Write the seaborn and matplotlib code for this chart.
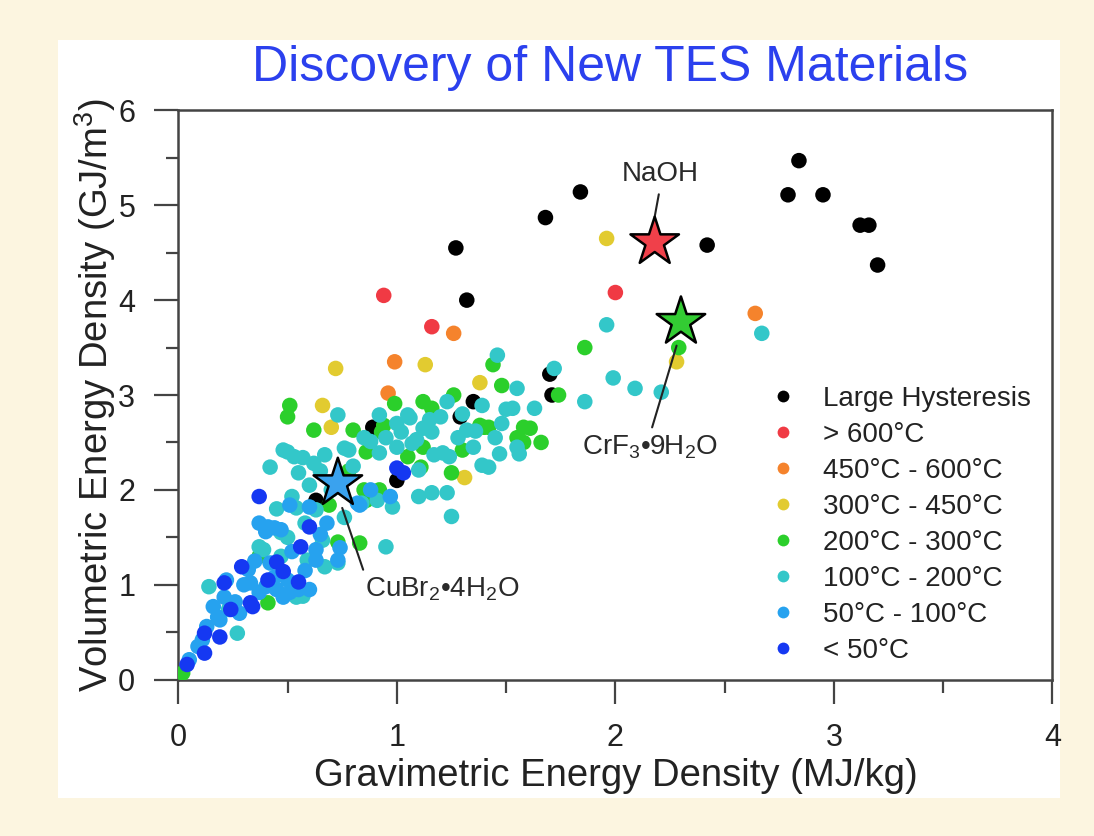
import matplotlib
matplotlib.use("Agg")
import matplotlib.pyplot as plt
from matplotlib.lines import Line2D
from matplotlib.patches import Rectangle
import pandas as pd
import seaborn as sns

# Data
# ==================================================

categories = ["Large Hysteresis", "> 600°C", "450°C - 600°C", "300°C - 450°C",
              "200°C - 300°C", "100°C - 200°C", "50°C - 100°C", "< 50°C"]
colors = ["#000000", "#f03a44", "#f5832c", "#e2cb30",
          "#2bcf2b", "#33c7c9", "#26a2ef", "#1538f2"]

black_x = [2.84, 2.79, 2.95, 3.12, 3.16, 3.20, 2.42, 1.84, 1.68, 1.27, 1.32, 1.70, 1.71, 1.35, 1.29, 0.89, 1.00, 0.63]
black_y = [5.47, 5.11, 5.11, 4.79, 4.79, 4.37, 4.58, 5.14, 4.87, 4.55, 4.00, 3.22, 3.00, 2.93, 2.77, 2.66, 2.10, 1.89]

red_x = [0.94, 1.16, 2.00]
red_y = [4.05, 3.72, 4.08]

orange_x = [1.26, 0.99, 0.96, 2.64]
orange_y = [3.65, 3.35, 3.02, 3.86]

yellow_x = [0.72, 0.66, 1.13, 1.38, 1.96, 2.28, 0.70, 1.31]
yellow_y = [3.28, 2.89, 3.32, 3.13, 4.65, 3.35, 2.66, 2.13]

green_x = [0.51, 0.50, 0.62, 0.80, 0.93, 0.99, 1.12, 1.26, 1.44, 1.48, 1.86, 1.74, 2.29, 1.58,
           1.66, 1.30, 1.25, 0.85, 0.69, 0.86, 0.83, 0.73, 0.41, 0.37, 0.02, 1.12, 1.61, 1.38,
           1.42, 1.55, 1.11, 1.16, 0.86, 0.92, 0.94, 1.40, 1.58, 0.78, 1.05]
green_y = [2.89, 2.77, 2.63, 2.63, 2.61, 2.91, 2.93, 3.00, 3.32, 3.10, 3.50, 3.00, 3.50, 2.66,
           2.50, 2.42, 2.18, 2.00, 1.84, 1.89, 1.44, 1.45, 0.81, 1.30, 0.07, 2.45, 2.65, 2.68,
           2.66, 2.55, 2.24, 2.86, 2.40, 2.00, 2.68, 2.66, 2.50, 2.20, 2.35]

teal_x = [1.46, 1.55, 1.63, 1.86, 1.72, 1.53, 1.39, 1.23, 0.73, 0.92, 1.05, 1.96, 1.99, 2.09,
          2.21, 2.67, 1.32, 1.48, 1.55, 1.39, 1.20, 1.06, 1.09, 1.16, 1.21, 1.56, 1.42, 1.24,
          1.10, 1.17, 0.76, 0.88, 1.02, 1.15, 1.07, 1.10, 1.16, 1.23, 1.25, 0.92, 0.91, 0.98,
          0.84, 0.42, 0.50, 0.57, 0.55, 0.67, 0.78, 0.52, 0.54, 0.63, 0.76, 0.95, 0.37, 0.47,
          0.66, 0.47, 0.14, 0.54, 0.50, 0.59, 0.73, 0.23, 0.27, 0.39, 0.57, 0.25, 0.67, 0.48,
          0.53, 1.45, 1.50, 1.30, 1.00, 0.95, 0.80, 0.65, 0.60, 0.70, 0.45, 1.00, 1.12, 1.35,
          1.47, 0.85, 0.58, 1.28, 1.36, 0.62]
teal_y = [3.42, 3.07, 2.86, 2.93, 3.28, 2.86, 2.89, 2.93, 2.79, 2.79, 2.79, 3.74, 3.18, 3.07,
          3.03, 3.65, 2.63, 2.70, 2.45, 2.26, 2.77, 2.76, 2.53, 2.61, 2.39, 2.38, 2.24, 2.35,
          2.21, 2.37, 2.44, 2.51, 2.61, 2.74, 2.49, 1.93, 1.97, 1.97, 1.72, 2.39, 1.89, 1.82,
          1.86, 2.24, 2.40, 2.34, 2.18, 2.37, 2.42, 1.93, 1.81, 1.79, 1.71, 1.40, 1.40, 1.55,
          1.47, 1.30, 0.98, 0.87, 1.50, 1.26, 1.23, 0.74, 0.49, 1.37, 0.88, 0.77, 1.19, 2.42,
          2.35, 2.55, 2.85, 2.80, 2.45, 2.55, 2.25, 2.20, 2.05, 2.00, 1.80, 2.70, 2.65, 2.45,
          2.38, 2.55, 1.65, 2.55, 2.62, 2.28]

lblue_x = [0.16, 0.19, 0.13, 0.09, 0.05, 0.33, 0.37, 0.48, 0.50, 0.28, 0.21, 0.60, 0.63, 0.42,
           0.51, 0.47, 0.68, 0.74, 0.65, 0.82, 0.45, 0.51, 0.22, 0.32, 0.37, 0.88, 0.97, 0.41,
           0.60, 0.40, 0.44, 0.83, 0.63, 0.73, 0.30, 0.40, 0.55, 0.44, 0.26, 0.18, 0.11, 0.35,
           0.58, 0.52]
lblue_y = [0.77, 0.63, 0.56, 0.35, 0.21, 1.02, 0.92, 0.87, 1.05, 0.70, 0.87, 0.95, 1.26, 1.23,
           1.84, 1.58, 1.65, 1.39, 1.53, 1.86, 0.95, 0.92, 1.05, 1.16, 1.65, 2.00, 1.93, 1.61,
           1.82, 1.56, 1.60, 1.84, 1.37, 1.26, 1.00, 0.98, 0.95, 1.08, 0.82, 0.66, 0.42, 1.25,
           1.15, 1.35]

blue_x = [0.04, 0.12, 0.12, 0.19, 0.24, 0.33, 0.21, 0.29, 0.41, 0.45, 0.48, 0.55, 0.56, 0.37,
          0.60, 1.00, 1.03, 0.34]
blue_y = [0.16, 0.28, 0.49, 0.45, 0.74, 0.81, 1.02, 1.19, 1.05, 1.24, 1.14, 1.03, 1.40, 1.93,
          1.61, 2.23, 2.18, 0.77]

star_names = ["NaOH", "CrF$_\\mathregular{3}$•9H$_\\mathregular{2}$O", "CuBr$_\\mathregular{2}$•4H$_\\mathregular{2}$O"]
star_x = [2.18, 2.30, 0.73]
star_y = [4.61, 3.77, 2.07]
star_colors = ["#f0404a", "#33cc33", "#3aa2ee"]

xs = [black_x, red_x, orange_x, yellow_x, green_x, teal_x, lblue_x, blue_x]
ys = [black_y, red_y, orange_y, yellow_y, green_y, teal_y, lblue_y, blue_y]

frames = []
for cat, x, y in zip(categories, xs, ys):
    frames.append(pd.DataFrame({"grav": x, "vol": y, "range": cat}))
df = pd.concat(frames, ignore_index=True)

stars = pd.DataFrame({"grav": star_x, "vol": star_y, "name": ["NaOH", "CrF3", "CuBr2"]})

# Plot
# ==================================================
sns.set_style("white")
plt.rcParams["font.family"] = ["Liberation Sans", "DejaVu Sans"]
plt.rcParams["mathtext.fontset"] = "custom"
plt.rcParams["mathtext.rm"] = "Liberation Sans"

fig = plt.figure(figsize=(10.94, 8.36), dpi=100)
fig.patch.set_facecolor("#fcf5e0")
fig.patches.append(Rectangle((0.053, 0.045), 0.916, 0.907, transform=fig.transFigure,
                             facecolor="white", edgecolor="none", zorder=-5))

ax = fig.add_axes([0.163, 0.187, 0.799, 0.681])

sns.scatterplot(data=df, x="grav", y="vol", hue="range", hue_order=categories,
                palette=colors, s=125, linewidth=0, legend=False, ax=ax, zorder=3)
sns.scatterplot(data=stars, x="grav", y="vol", hue="name", palette=star_colors,
                marker="*", s=1350, edgecolor="black", linewidth=1.8, legend=False,
                ax=ax, zorder=4)

ax.set_xlim(0, 4)
ax.set_ylim(0, 6)
ax.set_xticks([0, 1, 2, 3, 4])
ax.set_yticks([0, 1, 2, 3, 4, 5, 6])
ax.set_xticks([0.5, 1.5, 2.5, 3.5], minor=True)
ax.set_yticks([0.5, 1.5, 2.5, 3.5, 4.5, 5.5], minor=True)
ax.tick_params(which="major", direction="out", length=17, width=1.6, color="#444444",
               labelsize=22, pad=14, bottom=True, left=True, labelcolor="#222222")
ax.tick_params(which="minor", direction="out", length=9, width=1.6, color="#444444",
               bottom=True, left=True)
for sp in ax.spines.values():
    sp.set_color("#444444")
    sp.set_linewidth(1.8)

ax.set_xlabel("Gravimetric Energy Density (MJ/kg)", fontsize=27.5, color="#222222", labelpad=4)
ax.set_ylabel("Volumetric Energy Density (GJ/m$^\\mathregular{3}$)", fontsize=27.5, color="#222222", labelpad=0)

fig.text(0.558, 0.919, "Discovery of New TES Materials", fontsize=36, color="#2b40ee",
         ha="center", va="center")

# annotations for the starred materials
ax.annotate(star_names[0], xy=(2.18, 4.88), xytext=(2.205, 5.33), fontsize=20, color="#2a2a2a",
            ha="center", va="center",
            arrowprops=dict(arrowstyle="-", color="#222222", lw=1.5, relpos=(0.5, 0), shrinkA=3, shrinkB=0))
ax.annotate(star_names[1], xy=(2.28, 3.52), xytext=(2.16, 2.45), fontsize=20, color="#2a2a2a",
            ha="center", va="center",
            arrowprops=dict(arrowstyle="-", color="#222222", lw=1.5, relpos=(0.5, 1), shrinkA=2, shrinkB=0))
ax.annotate(star_names[2], xy=(0.75, 1.81), xytext=(0.855, 0.95), fontsize=20, color="#2a2a2a",
            ha="left", va="center",
            arrowprops=dict(arrowstyle="-", color="#222222", lw=1.5, relpos=(0, 1), shrinkA=2, shrinkB=0))

handles = [Line2D([], [], marker="o", linestyle="", markersize=8.5, color=c, markeredgewidth=0)
           for c in colors]
ax.legend(handles, categories, loc="upper left", bbox_to_anchor=(0.663, 0.535), frameon=False,
          fontsize=20, handlelength=1.0, handletextpad=0.95, labelspacing=0.36,
          labelcolor="#222222", borderaxespad=0)

fig.savefig("out.png", dpi=100, facecolor=fig.get_facecolor())
